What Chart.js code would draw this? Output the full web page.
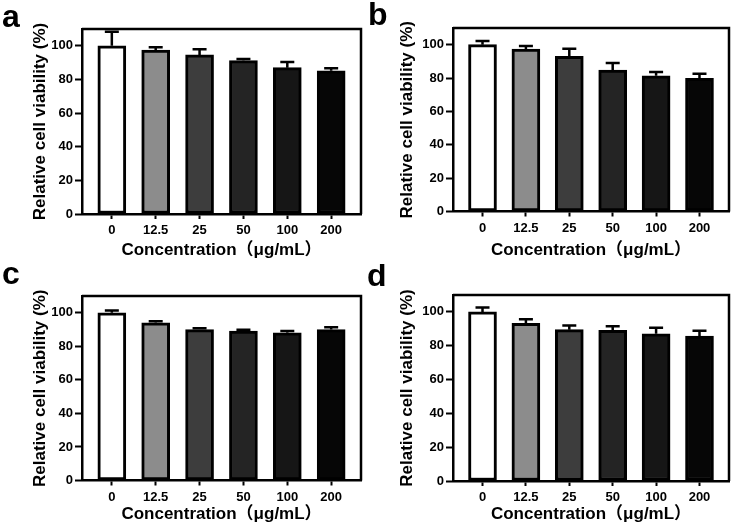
<!DOCTYPE html>
<html>
<head>
<meta charset="utf-8">
<script src="https://cdn.jsdelivr.net/npm/chart.js@4.4.1/dist/chart.umd.min.js"></script>
<style>
  body { margin: 0; background: #fff; }
  #wrap { position: relative; width: 734px; height: 528px; }
  .panel { position: absolute; width: 367px; height: 264px; }
</style>
</head>
<body>
<div id="wrap">
  <div class="panel" style="left:0;top:0"><canvas id="chartA" width="367" height="264"></canvas></div>
  <div class="panel" style="left:367px;top:0"><canvas id="chartB" width="367" height="264"></canvas></div>
  <div class="panel" style="left:0;top:264px"><canvas id="chartC" width="367" height="264"></canvas></div>
  <div class="panel" style="left:367px;top:264px"><canvas id="chartD" width="367" height="264"></canvas></div>
</div>
<script>
const concentrations = ["0", "12.5", "25", "50", "100", "200"];
const barColors = ["#ffffff", "#8c8c8c", "#3d3d3d", "#242424", "#161616", "#060606"];
const yTicks = [0, 20, 40, 60, 80, 100];

const viabilityA = [100, 97.4, 94.6, 91.2, 87, 85.2];
const errorA = [8.4, 1.8, 3.4, 1.0, 3.4, 1.4];
const viabilityB = [100, 97.4, 93, 84.8, 81.4, 79.8];
const errorB = [2.2, 1.8, 4.6, 4.2, 2.2, 2.8];
const viabilityC = [100, 94, 90, 89.1, 88.1, 90];
const errorC = [1.4, 1.0, 0.8, 0.8, 1.0, 1.4];
const viabilityD = [100, 93.3, 89.5, 89.1, 87.1, 85.7];
const errorD = [2.6, 2.3, 2.4, 2.4, 3.6, 3.2];

const FONT = "'Liberation Sans', Arial, 'Noto Sans CJK SC', sans-serif";
Chart.defaults.font.family = FONT;
Chart.defaults.color = "#000";

// error bars (upper only) on top of each bar
const errorBars = {
  id: "errorBars",
  afterDatasetsDraw(chart) {
    const ctx = chart.ctx;
    const y = chart.scales.y;
    const ds = chart.data.datasets[0];
    chart.getDatasetMeta(0).data.forEach((bar, i) => {
      const top = y.getPixelForValue(ds.data[i].y + ds.errors[i]);
      ctx.save();
      ctx.strokeStyle = "#000";
      ctx.lineWidth = 2.5;
      ctx.beginPath();
      ctx.moveTo(bar.x, bar.y);
      ctx.lineTo(bar.x, top);
      ctx.moveTo(bar.x - 7, top);
      ctx.lineTo(bar.x + 7, top);
      ctx.stroke();
      ctx.restore();
    });
  }
};

// top + right side of the box, and the panel letter
const frame = {
  id: "frame",
  afterDraw(chart, args, opts) {
    const { ctx, chartArea: a } = chart;
    ctx.save();
    ctx.strokeStyle = "#000";
    ctx.lineWidth = 2.5;
    ctx.beginPath();
    ctx.moveTo(a.left, a.top);
    ctx.lineTo(a.right, a.top);
    ctx.lineTo(a.right, a.bottom);
    ctx.stroke();
    ctx.fillStyle = "#000";
    ctx.font = "bold 32px " + FONT;
    ctx.textBaseline = "alphabetic";
    ctx.fillText(opts.letter, opts.lx, opts.ly);
    ctx.restore();
  }
};

function makePanel(id, values, errors, box) {
  new Chart(document.getElementById(id), {
    type: "bar",
    data: {
      datasets: [{
        data: values.map((v, i) => ({ x: i, y: v })),
        errors: errors,
        backgroundColor: barColors,
        borderColor: "#000",
        borderWidth: 3,
        borderSkipped: false,
        barThickness: 28
      }]
    },
    options: {
      responsive: false,
      animation: false,
      devicePixelRatio: 1,
      layout: { padding: { top: box.top, right: 367 - box.right, left: 0, bottom: 0 } },
      plugins: {
        legend: { display: false },
        tooltip: { enabled: false },
        frame: { letter: box.letter, lx: box.lx, ly: box.ly }
      },
      scales: {
        x: {
          type: "linear",
          offset: false,
          min: -0.68,
          max: 5.68,
          afterFit: s => { s.height = 264 - box.bottom; },
          grid: { offset: false, drawOnChartArea: false, tickLength: 5, tickWidth: 2, tickColor: "#000" },
          border: { color: "#000", width: 2.5 },
          ticks: {
            stepSize: 1,
            includeBounds: false,
            autoSkip: false,
            maxRotation: 0,
            padding: 4,
            font: { size: 13, weight: "bold" },
            callback: v => concentrations[v] ?? ""
          },
          title: {
            display: true,
            text: "Concentration（μg/mL）",
            font: { size: 17, weight: "bold" },
            padding: { top: 0, bottom: 3 }
          }
        },
        y: {
          min: 0,
          max: 110,
          afterFit: s => { s.width = box.left; },
          afterBuildTicks: s => { s.ticks = yTicks.map(v => ({ value: v })); },
          grid: { drawOnChartArea: false, tickLength: 7, tickWidth: 2, tickColor: "#000" },
          border: { color: "#000", width: 2.5 },
          ticks: { padding: 2, font: { size: 13, weight: "bold" } },
          title: {
            display: true,
            text: "Relative cell viability (%)",
            font: { size: 17, weight: "bold" },
            padding: { top: 30, bottom: 0 }
          }
        }
      }
    },
    plugins: [errorBars, frame]
  });
}

makePanel("chartA", viabilityA, errorA, { left: 82, right: 361, top: 29, bottom: 214, letter: "a", lx: 2, ly: 27 });
makePanel("chartB", viabilityB, errorB, { left: 86, right: 362, top: 28, bottom: 211.5, letter: "b", lx: 1, ly: 25 });
makePanel("chartC", viabilityC, errorC, { left: 82, right: 361, top: 32, bottom: 216.5, letter: "c", lx: 2, ly: 20 });
makePanel("chartD", viabilityD, errorD, { left: 86, right: 362, top: 31, bottom: 217, letter: "d", lx: 0, ly: 22 });
</script>
</body>
</html>
